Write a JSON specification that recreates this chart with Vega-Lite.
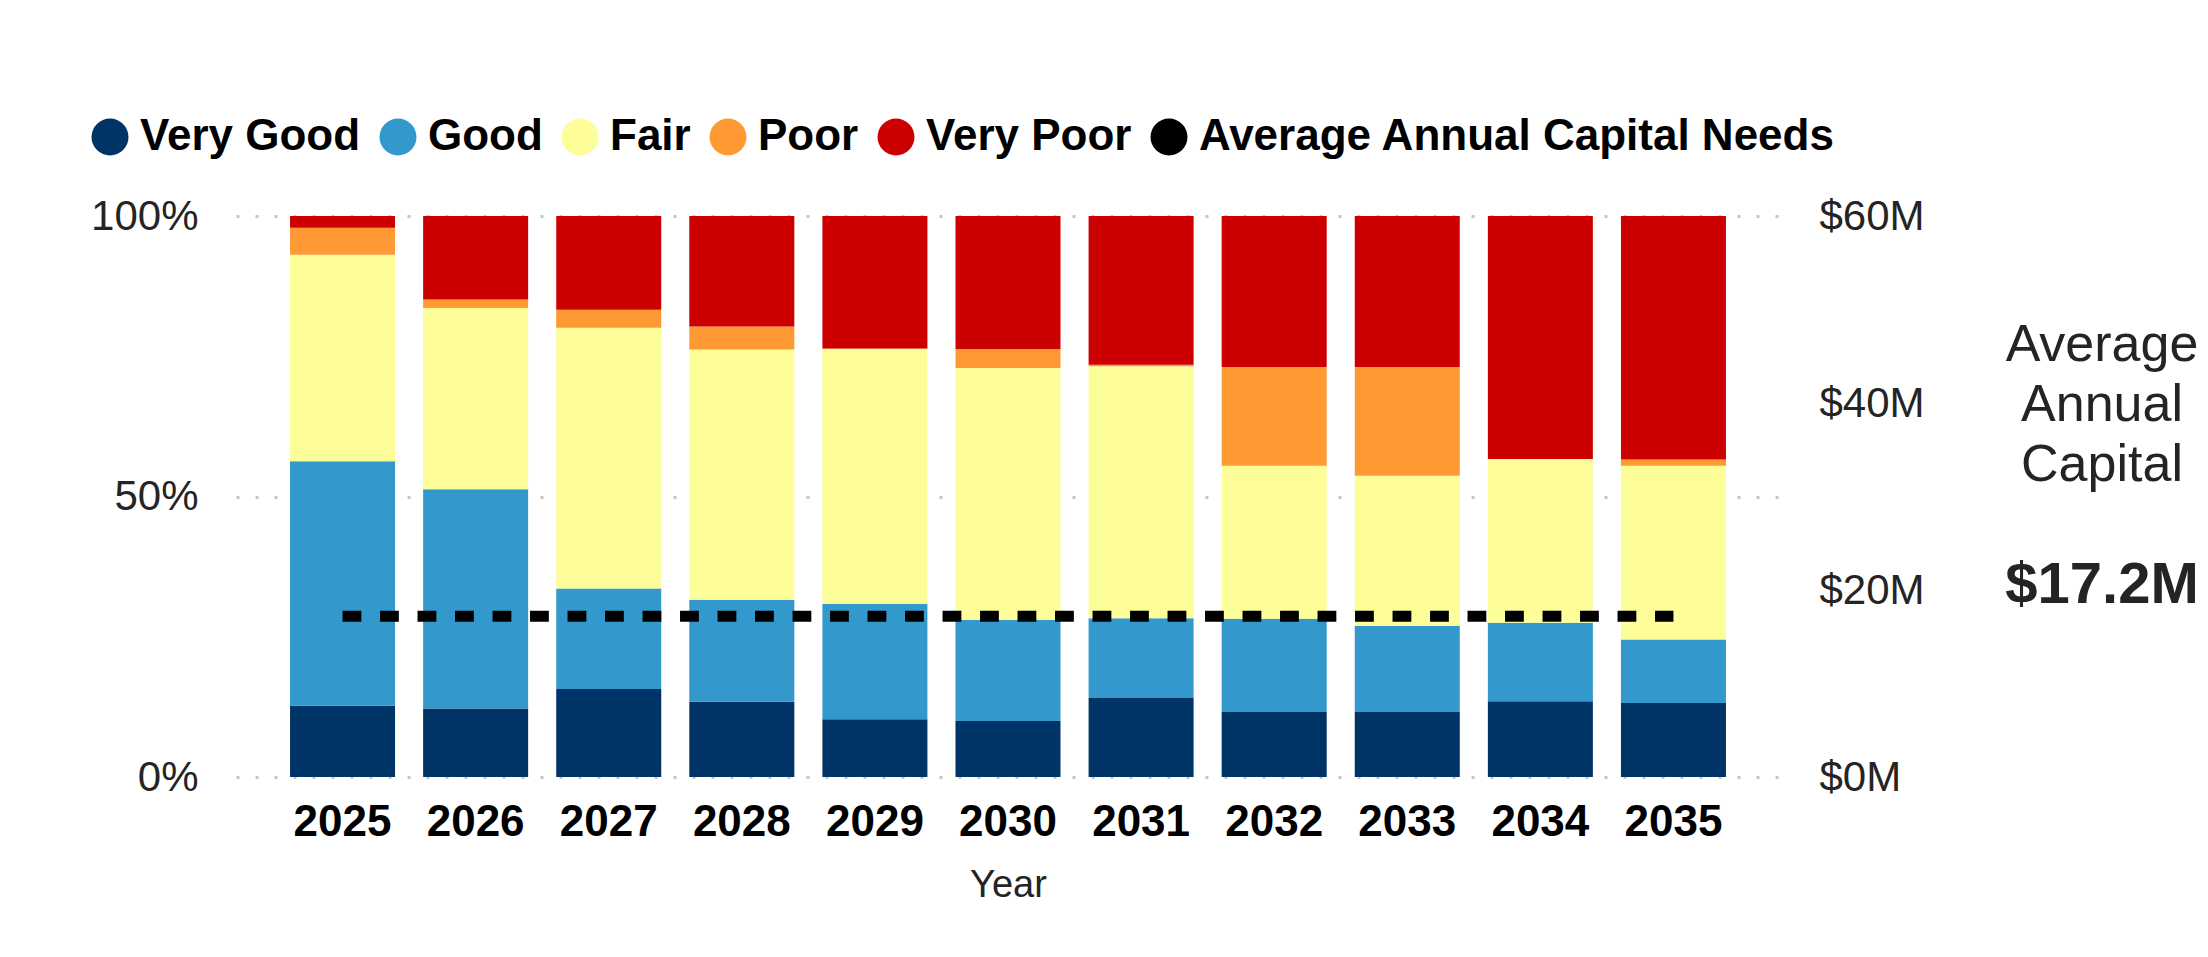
{
  "$schema": "https://vega.github.io/schema/vega-lite/v6.json",
  "background": "white",
  "padding": {"left": 88, "top": 115, "right": 0, "bottom": 0},
  "datasets": {
    "conditions": [
      {"Year": 2025, "Condition": "Very Good", "Share": 12.7},
      {"Year": 2025, "Condition": "Good", "Share": 43.6},
      {"Year": 2025, "Condition": "Fair", "Share": 36.8},
      {"Year": 2025, "Condition": "Poor", "Share": 4.8},
      {"Year": 2025, "Condition": "Very Poor", "Share": 2.1},
      {"Year": 2026, "Condition": "Very Good", "Share": 12.2},
      {"Year": 2026, "Condition": "Good", "Share": 39.1},
      {"Year": 2026, "Condition": "Fair", "Share": 32.3},
      {"Year": 2026, "Condition": "Poor", "Share": 1.5},
      {"Year": 2026, "Condition": "Very Poor", "Share": 14.9},
      {"Year": 2027, "Condition": "Very Good", "Share": 15.7},
      {"Year": 2027, "Condition": "Good", "Share": 17.9},
      {"Year": 2027, "Condition": "Fair", "Share": 46.5},
      {"Year": 2027, "Condition": "Poor", "Share": 3.2},
      {"Year": 2027, "Condition": "Very Poor", "Share": 16.7},
      {"Year": 2028, "Condition": "Very Good", "Share": 13.4},
      {"Year": 2028, "Condition": "Good", "Share": 18.2},
      {"Year": 2028, "Condition": "Fair", "Share": 44.6},
      {"Year": 2028, "Condition": "Poor", "Share": 4.1},
      {"Year": 2028, "Condition": "Very Poor", "Share": 19.7},
      {"Year": 2029, "Condition": "Very Good", "Share": 10.3},
      {"Year": 2029, "Condition": "Good", "Share": 20.6},
      {"Year": 2029, "Condition": "Fair", "Share": 45.4},
      {"Year": 2029, "Condition": "Poor", "Share": 0.1},
      {"Year": 2029, "Condition": "Very Poor", "Share": 23.6},
      {"Year": 2030, "Condition": "Very Good", "Share": 10.0},
      {"Year": 2030, "Condition": "Good", "Share": 18.0},
      {"Year": 2030, "Condition": "Fair", "Share": 44.9},
      {"Year": 2030, "Condition": "Poor", "Share": 3.4},
      {"Year": 2030, "Condition": "Very Poor", "Share": 23.7},
      {"Year": 2031, "Condition": "Very Good", "Share": 14.1},
      {"Year": 2031, "Condition": "Good", "Share": 14.2},
      {"Year": 2031, "Condition": "Fair", "Share": 44.9},
      {"Year": 2031, "Condition": "Poor", "Share": 0.3},
      {"Year": 2031, "Condition": "Very Poor", "Share": 26.5},
      {"Year": 2032, "Condition": "Very Good", "Share": 11.6},
      {"Year": 2032, "Condition": "Good", "Share": 16.6},
      {"Year": 2032, "Condition": "Fair", "Share": 27.3},
      {"Year": 2032, "Condition": "Poor", "Share": 17.6},
      {"Year": 2032, "Condition": "Very Poor", "Share": 26.9},
      {"Year": 2033, "Condition": "Very Good", "Share": 11.6},
      {"Year": 2033, "Condition": "Good", "Share": 15.3},
      {"Year": 2033, "Condition": "Fair", "Share": 26.8},
      {"Year": 2033, "Condition": "Poor", "Share": 19.4},
      {"Year": 2033, "Condition": "Very Poor", "Share": 26.9},
      {"Year": 2034, "Condition": "Very Good", "Share": 13.5},
      {"Year": 2034, "Condition": "Good", "Share": 14.0},
      {"Year": 2034, "Condition": "Fair", "Share": 29.2},
      {"Year": 2034, "Condition": "Poor", "Share": 0.0},
      {"Year": 2034, "Condition": "Very Poor", "Share": 43.3},
      {"Year": 2035, "Condition": "Very Good", "Share": 13.2},
      {"Year": 2035, "Condition": "Good", "Share": 11.3},
      {"Year": 2035, "Condition": "Fair", "Share": 31.0},
      {"Year": 2035, "Condition": "Poor", "Share": 1.1},
      {"Year": 2035, "Condition": "Very Poor", "Share": 43.4}
    ],
    "capital": [
      {"Metric": "Average Annual Capital", "Value": 17200000}
    ]
  },
  "hconcat": [
    {
      "width": 1544,
      "height": 561,
      "layer": [
        {
          "data": {"name": "conditions"},
          "transform": [
            {"calculate": "indexof(['Very Good','Good','Fair','Poor','Very Poor'], datum.Condition)", "as": "StackOrder"}
          ],
          "mark": {"type": "bar"},
          "encoding": {
            "x": {
              "field": "Year",
              "type": "ordinal",
              "scale": {"paddingInner": 0.211, "paddingOuter": 0.406},
              "axis": {
                "labelAngle": 0,
                "labelFont": "Liberation Sans",
                "labelFontSize": 44,
                "labelFontWeight": "bold",
                "labelColor": "#000000",
                "labelPadding": 23,
                "domain": false,
                "ticks": false,
                "grid": false,
                "title": "Year",
                "titleFont": "Liberation Sans",
                "titleFontSize": 38,
                "titleFontWeight": "normal",
                "titleColor": "#252423",
                "titlePadding": 22
              }
            },
            "y": {
              "field": "Share",
              "type": "quantitative",
              "stack": "normalize",
              "axis": {
                "orient": "left",
                "values": [0, 0.5, 1],
                "format": ".0%",
                "title": null,
                "domain": false,
                "ticks": false,
                "labelPadding": 38,
                "labelFont": "Liberation Sans",
                "labelFontSize": 42,
                "labelColor": "#252423",
                "grid": true,
                "gridDash": [3, 16],
                "gridColor": "#C8C6C4",
                "gridWidth": 3
              }
            },
            "color": {
              "field": "Condition",
              "type": "nominal",
              "scale": {
                "domain": ["Very Good", "Good", "Fair", "Poor", "Very Poor", "Average Annual Capital Needs"],
                "range": ["#003366", "#3399CC", "#FDFD99", "#FF9933", "#CC0000", "#000000"]
              },
              "legend": {
                "orient": "none",
                "legendX": -148,
                "legendY": -101,
                "direction": "horizontal",
                "title": null,
                "symbolType": "circle",
                "symbolSize": 1369,
                "symbolStrokeWidth": 0,
                "symbolOpacity": 1,
                "labelFont": "Liberation Sans",
                "labelFontSize": 44,
                "labelFontWeight": "bold",
                "labelColor": "#000000",
                "labelLimit": 0,
                "labelOffset": 8,
                "columnPadding": 15
              }
            },
            "order": {"field": "StackOrder", "type": "quantitative"}
          }
        },
        {
          "data": {"name": "capital"},
          "mark": {"type": "rule", "strokeWidth": 11, "strokeDash": [18.8, 18.7], "strokeCap": "butt"},
          "encoding": {
            "x": {"datum": 2025, "type": "ordinal", "bandPosition": 0.5},
            "x2": {"datum": 2035, "bandPosition": 0.5},
            "y": {
              "field": "Value",
              "type": "quantitative",
              "scale": {"domain": [0, 60000000]},
              "axis": {
                "orient": "right",
                "values": [0, 20000000, 40000000, 60000000],
                "labelExpr": "'$' + format(datum.value / 1000000, 'd') + 'M'",
                "title": null,
                "domain": false,
                "ticks": false,
                "grid": false,
                "labelPadding": 39,
                "labelFont": "Liberation Sans",
                "labelFontSize": 42,
                "labelColor": "#252423"
              }
            },
            "color": {"datum": "Average Annual Capital Needs"}
          }
        }
      ],
      "resolve": {"scale": {"y": "independent"}}
    },
    {
      "width": 200,
      "height": 561,
      "data": {"name": "capital"},
      "layer": [
        {
          "mark": {
            "type": "text",
            "lineBreak": " ",
            "font": "Liberation Sans",
            "fontSize": 52,
            "lineHeight": 60,
            "color": "#252423",
            "align": "center",
            "baseline": "alphabetic",
            "dy": -136
          },
          "encoding": {"text": {"field": "Metric"}}
        },
        {
          "mark": {
            "type": "text",
            "font": "Liberation Sans",
            "fontSize": 58,
            "fontWeight": "bold",
            "color": "#252423",
            "align": "center",
            "baseline": "alphabetic",
            "dy": 106
          },
          "encoding": {"text": {"field": "Value", "format": "$.3s"}}
        }
      ]
    }
  ],
  "spacing": 77,
  "config": {
    "font": "Liberation Sans",
    "view": {"stroke": null}
  }
}
